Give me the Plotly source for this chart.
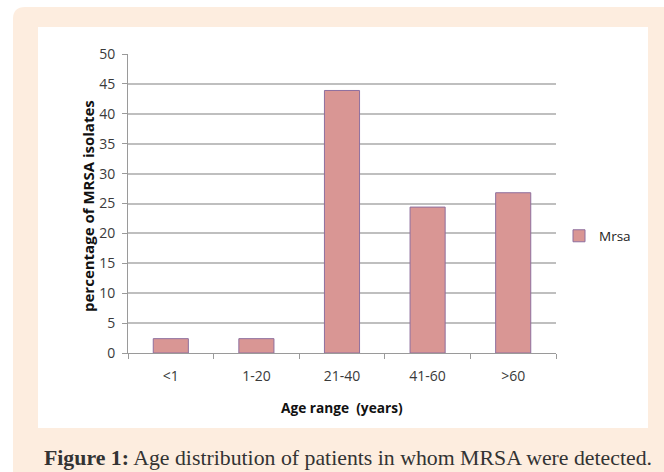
import plotly.graph_objects as go

categories = ["<1", "1-20", "21-40", "41-60", ">60"]
mrsa_values = [2.4, 2.4, 43.9, 24.4, 26.8]
y_ticks = [0, 5, 10, 15, 20, 25, 30, 35, 40, 45, 50]

W, H = 664, 472

def px(x):
    return x / W

def py(y):
    return 1 - y / H

fig = go.Figure()
fig.add_trace(go.Bar(
    x=categories, y=mrsa_values, name="Mrsa",
    marker=dict(color="#d99694", line=dict(color="#8e6f9e", width=1)),
    width=0.41,
))

tick_font = dict(family="Open Sans, sans-serif", size=14, color="#3a3a3a")

# background shapes
r = 12
x0, y0, x1, y1 = 13, 7, 700, 500
path = (f"M {px(x0)} {py(y0 + r)} Q {px(x0)} {py(y0)} {px(x0 + r)} {py(y0)} "
        f"L {px(x1)} {py(y0)} L {px(x1)} {py(y1)} L {px(x0)} {py(y1)} Z")
shapes = [
    dict(type="path", xref="paper", yref="paper", path=path,
         fillcolor="#fdeddf", line=dict(width=0), layer="below"),
    dict(type="rect", xref="paper", yref="paper",
         x0=px(38), x1=px(648), y0=py(428), y1=py(27),
         fillcolor="white", line=dict(width=0), layer="below"),
]

annotations = [
    dict(text="<b>percentage of MRSA isolates</b>", textangle=-90,
         xref="paper", yref="paper", x=px(88), y=py(206),
         xanchor="center", yanchor="middle",
         showarrow=False, font=dict(family="Open Sans, sans-serif", size=15, color="#111")),
    dict(text="<b>Age range  (years)</b>",
         xref="paper", yref="paper", x=px(342), y=py(407),
         xanchor="center", yanchor="middle",
         showarrow=False, font=dict(family="Open Sans, sans-serif", size=13.7, color="#111")),
    dict(text="<b>Figure 1:</b> Age distribution of patients in whom MRSA were detected.",
         xref="paper", yref="paper", x=px(348), y=py(458),
         xanchor="center", yanchor="middle",
         showarrow=False, font=dict(family="Liberation Serif, serif", size=21.8, color="#333")),
]

fig.update_layout(
    width=W, height=H,
    margin=dict(l=0, r=0, t=0, b=0, pad=0, autoexpand=False),
    paper_bgcolor="white", plot_bgcolor="white",
    shapes=shapes, annotations=annotations,
    bargap=0.59,
    showlegend=True,
    legend=dict(x=px(559), y=py(236), xanchor="left", yanchor="middle",
                font=dict(family="Open Sans, sans-serif", size=13.5, color="#222"),
                bgcolor="rgba(0,0,0,0)"),
    xaxis=dict(domain=[px(128), px(556)], tickfont=tick_font,
               showline=True, linecolor="#9a9a9a", linewidth=1,
               ticks="outside", tickson="boundaries", ticklen=5, tickcolor="#9a9a9a",
               ticklabelstandoff=10, showgrid=False),
    yaxis=dict(domain=[py(353), py(54)], range=[0, 50], tickvals=y_ticks,
               tickfont=tick_font, showline=True, linecolor="#9a9a9a", linewidth=1,
               ticks="outside", ticklen=5, tickcolor="#9a9a9a", ticklabelstandoff=4,
               showgrid=True, gridcolor="#bfbfbf", gridwidth=1.5, zeroline=False),
)

fig.write_html("out.html", config={"displayModeBar": False},
               post_script="document.body.style.margin='0';document.body.style.overflow='hidden';")
